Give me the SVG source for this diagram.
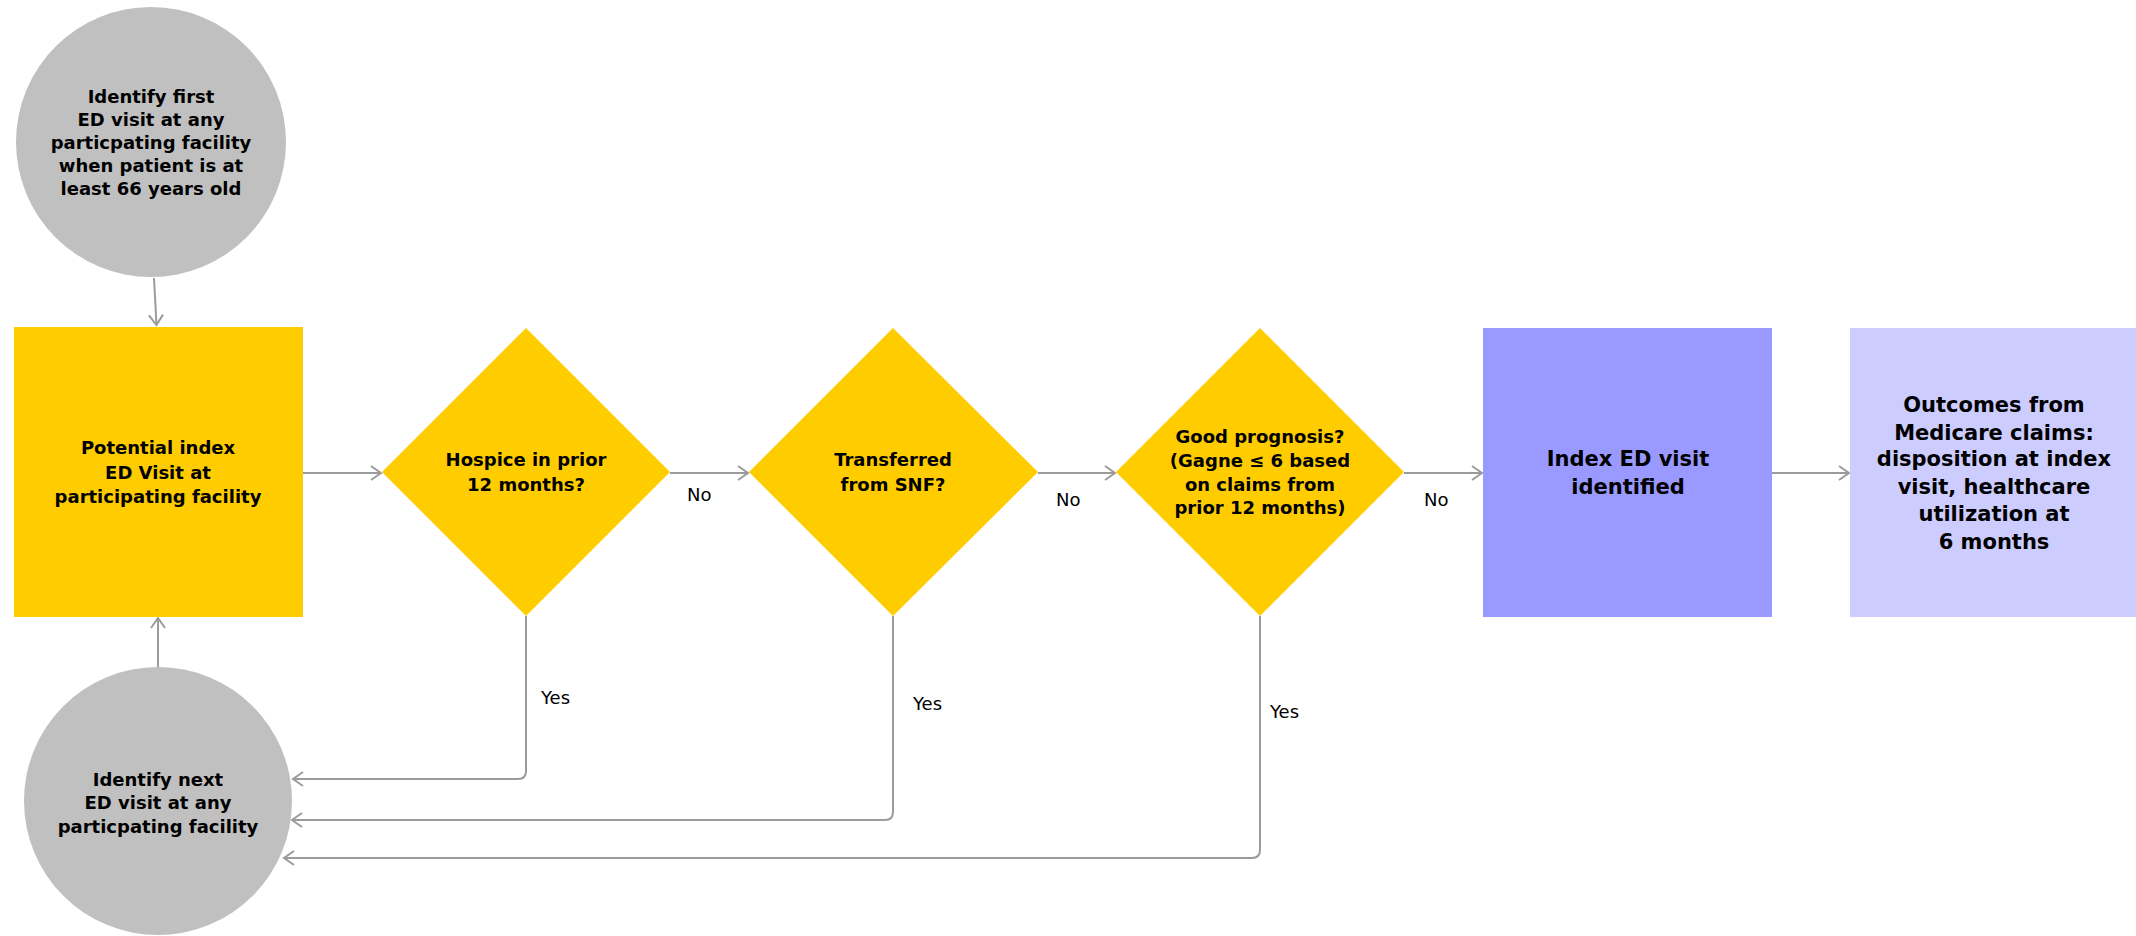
<svg xmlns="http://www.w3.org/2000/svg" width="2136" height="936" viewBox="0 0 2136 936">
<style>
.t{font-family:"DejaVu Sans",Verdana,sans-serif;font-weight:bold;font-size:18px;fill:#000;text-anchor:middle}
.tl{font-family:"DejaVu Sans",Verdana,sans-serif;font-weight:bold;font-size:21px;fill:#000;text-anchor:middle}
.lbl{font-family:"DejaVu Sans",Verdana,sans-serif;font-size:18px;fill:#000}
.c{fill:none;stroke:#9b9b9b;stroke-width:2}
.gray{fill:#c0c0c0}
.yel{fill:#ffcc00}
</style>
<defs>
<marker id="arr" viewBox="-12 -9 14 18" markerWidth="14" markerHeight="18" refX="0" refY="0" orient="auto" markerUnits="userSpaceOnUse">
<path d="M-10,-7 L0,0 L-10,7" fill="none" stroke="#9b9b9b" stroke-width="2"/>
</marker>
</defs>
<rect width="2136" height="936" fill="#fff"/>

<g id="connectors">
<path class="c" d="M154,278 L156.5,325" marker-end="url(#arr)"/>
<path class="c" d="M303,473 L381,473" marker-end="url(#arr)"/>
<path class="c" d="M670,473 L748,473" marker-end="url(#arr)"/>
<path class="c" d="M1038,473 L1115,473" marker-end="url(#arr)"/>
<path class="c" d="M1404,473 L1482,473" marker-end="url(#arr)"/>
<path class="c" d="M1772,473 L1849,473" marker-end="url(#arr)"/>
<path class="c" d="M158,667 L158,618" marker-end="url(#arr)"/>
<path class="c" d="M526,616 L526,771 Q526,779 518,779 L293,779" marker-end="url(#arr)"/>
<path class="c" d="M893,616 L893,812 Q893,820 885,820 L292,820" marker-end="url(#arr)"/>
<path class="c" d="M1260,616 L1260,850 Q1260,858 1252,858 L284,858" marker-end="url(#arr)"/>
<text class="lbl" x="687" y="501">No</text>
<text class="lbl" x="1056" y="506">No</text>
<text class="lbl" x="1424" y="506">No</text>
<text class="lbl" x="541" y="704">Yes</text>
<text class="lbl" x="913" y="710">Yes</text>
<text class="lbl" x="1270" y="718">Yes</text>
</g>

<g id="start">
<circle class="gray" cx="151" cy="142" r="135"/>
<text class="t" x="151" y="103">Identify first</text>
<text class="t" x="151" y="126">ED visit at any</text>
<text class="t" x="151" y="149">particpating facility</text>
<text class="t" x="151" y="172">when patient is at</text>
<text class="t" x="151" y="195">least 66 years old</text>
</g>

<g id="potential">
<rect class="yel" x="14" y="327" width="289" height="290"/>
<text class="t" x="158" y="454">Potential index</text>
<text class="t" x="158" y="479">ED Visit at</text>
<text class="t" x="158" y="503">participating facility</text>
</g>

<g id="hospice">
<polygon class="yel" points="526,328 670,472 526,616 382,472"/>
<text class="t" x="526" y="466">Hospice in prior</text>
<text class="t" x="526" y="491">12 months?</text>
</g>

<g id="snf">
<polygon class="yel" points="893,328 1038,472 893,616 749,472"/>
<text class="t" x="893" y="466">Transferred</text>
<text class="t" x="893" y="491">from SNF?</text>
</g>

<g id="prognosis">
<polygon class="yel" points="1260,328 1404,472 1260,616 1116,472"/>
<text class="t" x="1260" y="443">Good prognosis?</text>
<text class="t" x="1260" y="467">(Gagne ≤ 6 based</text>
<text class="t" x="1260" y="491">on claims from</text>
<text class="t" x="1260" y="514">prior 12 months)</text>
</g>

<g id="index">
<rect x="1483" y="328" width="289" height="289" fill="#9999ff"/>
<text class="tl" x="1628" y="466">Index ED visit</text>
<text class="tl" x="1628" y="494">identified</text>
</g>

<g id="outcomes">
<rect x="1850" y="328" width="290" height="289" fill="#ccccff"/>
<text class="tl" x="1994" y="412">Outcomes from</text>
<text class="tl" x="1994" y="440">Medicare claims:</text>
<text class="tl" x="1994" y="466">disposition at index</text>
<text class="tl" x="1994" y="494">visit, healthcare</text>
<text class="tl" x="1994" y="521">utilization at</text>
<text class="tl" x="1994" y="549">6 months</text>
</g>

<g id="next">
<circle class="gray" cx="158" cy="801" r="134"/>
<text class="t" x="158" y="786">Identify next</text>
<text class="t" x="158" y="809">ED visit at any</text>
<text class="t" x="158" y="833">particpating facility</text>
</g>
</svg>
